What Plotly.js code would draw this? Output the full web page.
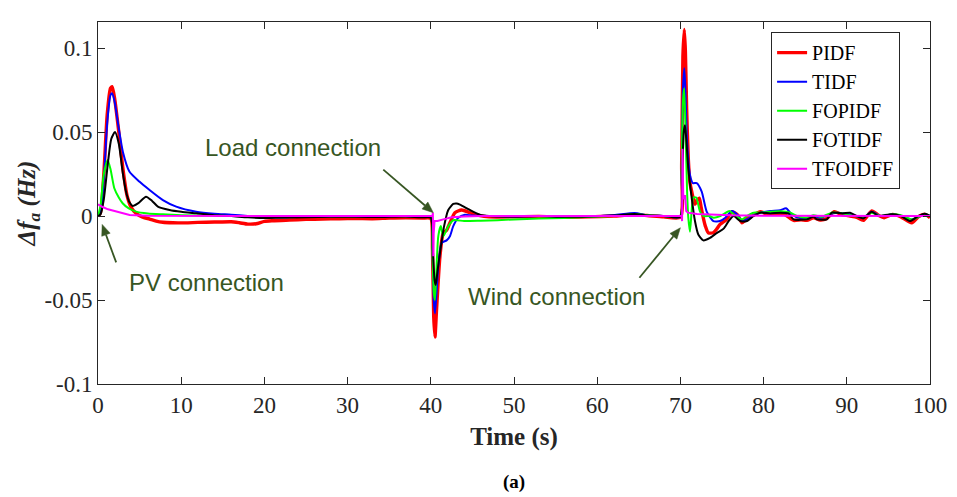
<!DOCTYPE html>
<html>
<head>
<meta charset="utf-8">
<script src="https://cdn.plot.ly/plotly-3.0.1.min.js"></script>
<style>html,body{margin:0;padding:0;background:#fff;}#chart{width:957px;height:497px;}</style>
</head>
<body>
<div id="chart"></div>
<script>
// ---- Data (time in s, deviation in Hz) ----
const seriesNames = ["PIDF", "TIDF", "FOPIDF", "FOTIDF", "TFOIDFF"];

const pidfT = [0,0.3,0.7,1.1,1.5,1.7,2.0,2.5,3.0,3.5,4.0,4.6,5.3,6.2,7.0,7.8,9,10.5,12,14,16,17,18,19,20,21,23,25,27,29,31,33,35,37,39,40.0,40.2,40.35,40.5,40.7,41.1,41.5,41.9,42.3,42.9,43.7,44.7,45.9,47,50,53,56,59,62,64.5,66,68,70.0,70.15,70.3,70.47,70.6,70.75,70.95,71.15,71.36,71.75,72.0,72.27,72.5,72.75,73.0,73.35,73.95,74.4,74.76,75.56,76.2,76.9,77.4,78,78.8,79.6,80.5,81.5,82.5,83.6,84.5,85.2,86,86.8,87.6,88.5,89.3,90.4,91.2,92,93,93.8,94.5,95.5,96.5,97.8,98.6,99.4,100];
const pidfV = [0,0.002,0.025,0.060,0.076,0.077,0.070,0.050,0.028,0.012,0.005,0.0015,-0.0005,-0.0018,-0.003,-0.0037,-0.004,-0.0041,-0.0038,-0.0036,-0.0034,-0.004,-0.0048,-0.0046,-0.0032,-0.0028,-0.0024,-0.002,-0.0018,-0.0016,-0.0015,-0.0016,-0.0012,-0.001,-0.0012,-0.0015,-0.02,-0.06,-0.072,-0.055,-0.024,-0.010,-0.0085,-0.004,0.002,0.0036,0.002,0.0002,-0.0005,-0.0005,-0.0003,-0.0008,-0.0005,0,0.0008,0.0003,-0.0005,-0.0008,0.03,0.095,0.111,0.098,0.064,0.034,0.020,0.0145,0.007,0.0095,0.0106,0.005,-0.001,-0.006,-0.010,-0.010,-0.0075,-0.005,-0.002,0.0026,0.0005,-0.004,-0.0015,0.0005,0.0026,0.001,0.0015,0.001,-0.0026,-0.0022,-0.0026,-0.001,-0.0024,-0.0015,0.0026,0.001,0,-0.0008,-0.0026,0.003,0.0005,-0.001,0.001,-0.0005,-0.004,-0.0005,0.001,-0.001];

const tidfT = [0,0.3,0.7,1.1,1.5,1.7,2.0,2.5,3.0,3.77,4.97,6.2,7.8,9.4,11.8,14,16,18,20,22,24,27,30,33,36,39,40.0,40.2,40.35,40.5,40.7,40.9,41.3,41.9,42.3,42.7,43.3,44.1,45,47,50,53,56,59,62,64.5,66,68,70.0,70.15,70.3,70.47,70.6,70.8,71.15,71.5,71.96,72.56,73.16,73.96,74.76,75.4,76.2,76.9,77.4,78,78.8,79.6,80.8,82,82.7,83.2,84,85.2,86,86.8,88.2,89,90.4,92,93,94,95.5,96.5,97.8,99.4,100];
const tidfV = [0,0.002,0.022,0.055,0.072,0.073,0.068,0.052,0.038,0.0265,0.0205,0.0155,0.0095,0.0056,0.0026,0.0014,0.0008,0,-0.0008,-0.0008,-0.0004,-0.0002,0,-0.0003,0,-0.0005,-0.0008,-0.02,-0.05,-0.058,-0.045,-0.030,-0.016,-0.0145,-0.012,-0.006,-0.001,0.0008,0.0003,0,-0.0003,0,-0.0005,-0.0002,0.0005,0.0018,0.0005,0,-0.0005,0.025,0.075,0.088,0.075,0.044,0.0245,0.0196,0.0196,0.0145,0.0026,-0.003,-0.003,-0.001,0.003,0.0005,-0.003,-0.002,0.0005,0.002,0.003,0.0035,0.0046,0.002,-0.0008,-0.001,0,-0.001,0.0015,0.002,0.001,-0.001,0.0026,0,0.001,0,-0.002,0.001,0];

const fopidfT = [0,0.3,0.7,1.16,1.5,1.96,2.5,2.96,3.7,4.57,6,7.8,10,13,16,20,25,30,35,39,40.0,40.2,40.35,40.5,40.65,40.9,41.2,41.5,42.1,42.7,44,46,48,50,53,56,59,62,64.5,66,68,70.0,70.15,70.3,70.45,70.6,70.8,70.95,71.15,71.35,71.55,71.9,72.36,72.8,73.5,74,74.8,75.9,76.5,77.4,78,78.8,79.6,80.8,82,83.2,84,85.2,86,87,88.2,89.5,90.4,92,93,94,95.5,96.5,97.8,99.4,100];
const fopidfV = [0,0.006,0.025,0.0334,0.028,0.0165,0.011,0.0076,0.0045,0.0026,0.0015,0.001,0.0005,0.0002,0,-0.0003,0,-0.0003,0,-0.0005,-0.0008,-0.02,-0.045,-0.050,-0.035,-0.012,-0.006,-0.012,-0.006,-0.0025,-0.003,-0.0028,-0.0025,-0.002,-0.0015,-0.0012,-0.0005,0,0.0012,0.0005,0,-0.0003,0.025,0.068,0.076,0.055,0.015,-0.001,-0.0093,0.003,0.011,0.011,0.0026,0,0,-0.001,0,0.003,0.0005,-0.002,0,0.002,0.002,0.0026,0.0028,0.002,0,-0.001,0.0005,-0.0005,0.002,0.0015,0.0005,-0.0005,0.002,0,0.001,0.0005,-0.002,0.001,0];

const fotidfT = [0,0.3,0.7,1.2,1.6,2.04,2.5,3.0,3.37,3.8,4.17,4.8,5.77,6.5,7.2,8.6,10,11.8,14,16,18,20,22,25,28,31,34,37,39,40.0,40.25,40.45,40.6,40.8,41.1,41.6,42.1,42.7,43.1,43.5,44.7,45.9,47,50,53,56,59,62,64.5,66,68,70.0,70.2,70.4,70.55,70.7,70.95,71.36,71.75,72.15,72.75,73.56,74.4,75.2,75.8,76.4,77.2,78,78.8,79.6,80.8,82,83,83.6,85.2,86,86.4,87.6,88.2,89.5,90.4,91.2,92,93,93.8,94.5,95.5,96.5,97.6,98.6,99.4,100];
const fotidfV = [0,0.001,0.01,0.032,0.046,0.050,0.043,0.025,0.0145,0.008,0.006,0.0075,0.0115,0.009,0.0056,0.0036,0.0025,0.0016,0.0005,0,-0.0008,-0.0012,-0.001,-0.0008,-0.0005,-0.0005,-0.0006,-0.0003,-0.0008,-0.001,-0.02,-0.038,-0.041,-0.033,-0.022,-0.006,0.0036,0.0072,0.0075,0.0068,0.0036,0.0008,0,-0.0003,0,-0.0005,-0.0003,0.0003,0.0012,0.0003,0,-0.0005,0.02,0.05,0.054,0.046,0.0285,0.0106,-0.003,-0.011,-0.0145,-0.013,-0.010,-0.0075,-0.003,0,-0.003,-0.003,0,0.002,0.0015,0.002,0.0015,-0.002,-0.002,-0.0005,-0.002,-0.002,0.002,0.0015,0.002,0,-0.0014,0.0026,0,0.0005,0.001,0,-0.003,0,0.0014,0];

const tfoidffT = [0,0.5,1.2,2.16,3.8,6,10,20,30,40.2,40.25,40.3,40.35,40.45,40.8,41.5,42.5,44,46,60,70.15,70.2,70.25,70.35,70.55,70.7,70.9,72,74,76,80,90,100];
const tfoidffV = [0.007,0.0055,0.004,0.0026,0.0006,0.0001,0,0,0,0,0.002,-0.024,-0.01,-0.003,-0.003,-0.002,-0.0008,-0.0003,0,0,0,-0.003,0.040,0.01,0.0125,0.003,0.002,0.0012,0.0008,0.0004,0.0002,0,0];

const yTickVals = [-0.1, -0.05, 0, 0.05, 0.1];
const yTickText = ["-0.1", "-0.05", "0", "0.05", "0.1"];
const xTickVals = [0,10,20,30,40,50,60,70,80,90,100];

// ---- Styling ----
const colors = ["#ff0000", "#0000ff", "#00ff00", "#000000", "#ff00ff"];
const widths = [3.4, 2, 2, 2, 2];
const xs = [pidfT, tidfT, fopidfT, fotidfT, tfoidffT];
const ys = [pidfV, tidfV, fopidfV, fotidfV, tfoidffV];

const traces = seriesNames.map((n, i) => ({
  type: "scatter", mode: "lines", name: n, x: xs[i], y: ys[i],
  line: {color: colors[i], width: widths[i], shape: i === 4 ? "linear" : "spline", smoothing: 0.6}
}));

const serif = "Liberation Serif, Times New Roman, serif";
const sans = "Liberation Sans, Arial, sans-serif";
const annColor = "#375623";

// Arrow (line + filled head) anchored at a data point, tail offset in screen pixels
function arrowShapes(hx, hy, dx, dy) {
  const tx = dx, ty = -dy;               // pixel-sizemode paths use y-up
  const len = Math.hypot(tx, ty);
  const ux = -tx / len, uy = -ty / len;  // unit vector tail -> head
  const L = 11, W = 4.5;
  const bx = -L * ux, by = -L * uy;
  const nx = -uy, ny = ux;
  const common = {type: "path", xref: "x", yref: "y", xsizemode: "pixel", ysizemode: "pixel",
                  xanchor: hx, yanchor: hy, layer: "above"};
  return [
    Object.assign({}, common, {path: `M${tx},${ty} L${bx},${by}`, line: {color: annColor, width: 1.8}}),
    Object.assign({}, common, {path: `M0,0 L${bx + W*nx},${by + W*ny} L${bx - W*nx},${by - W*ny} Z`,
                               fillcolor: annColor, line: {color: annColor, width: 0.5}})
  ];
}

const shapes = [].concat(
  arrowShapes(40.3, 0.002, -50, -43),
  arrowShapes(0.5, -0.005, 14, 38),
  arrowShapes(70.0, -0.007, -41, 50)
);

const layout = {
  width: 957, height: 497,
  margin: {l: 98, r: 27, t: 22, b: 113},
  paper_bgcolor: "#ffffff", plot_bgcolor: "#ffffff",
  showlegend: true,
  legend: {x: 0.809, y: 0.972, xanchor: "left", yanchor: "top", bgcolor: "#ffffff",
           bordercolor: "#262626", borderwidth: 1, font: {family: serif, size: 20, color: "#000"},
           tracegroupgap: 0, entrywidth: 110, entrywidthmode: "pixels"},
  xaxis: {range: [0, 100], tickvals: xTickVals, ticks: "inside", ticklen: 7, tickcolor: "#262626",
          showline: true, linecolor: "#262626", linewidth: 1, mirror: "ticks", showgrid: false, zeroline: false,
          tickfont: {family: serif, size: 23, color: "#262626"},
          title: {text: "<b>Time (s)</b>", font: {family: serif, size: 25, color: "#262626"}, standoff: 10}},
  yaxis: {range: [-0.1, 0.1155], tickvals: yTickVals, ticktext: yTickText, ticks: "inside", ticklen: 7, tickcolor: "#262626",
          showline: true, linecolor: "#262626", linewidth: 1, mirror: "ticks", showgrid: false, zeroline: false,
          tickfont: {family: serif, size: 23, color: "#262626"},
          title: {text: "<b><i>Δf<sub>a</sub> (Hz)</i></b>", font: {family: serif, size: 25, color: "#262626"}, standoff: 1}},
  shapes: shapes,
  annotations: [
    {xref: "paper", yref: "paper", x: (293-98)/832, y: (384-147)/362, xanchor: "center", yanchor: "middle",
     text: "Load connection", showarrow: false, font: {family: sans, size: 24, color: annColor}},
    {xref: "paper", yref: "paper", x: (206-98)/832, y: (384-282)/362, xanchor: "center", yanchor: "middle",
     text: "PV connection", showarrow: false, font: {family: sans, size: 24, color: annColor}},
    {xref: "paper", yref: "paper", x: (556-98)/832, y: (384-296)/362, xanchor: "center", yanchor: "middle",
     text: "Wind connection", showarrow: false, font: {family: sans, size: 24, color: annColor}},
    {xref: "paper", yref: "paper", x: 0.5, y: (384-482)/362, xanchor: "center", yanchor: "middle",
     text: "<b>(a)</b>", showarrow: false, font: {family: serif, size: 19, color: "#000"}}
  ]
};

Plotly.newPlot("chart", traces, layout, {displayModeBar: false, staticPlot: true});
</script>
</body>
</html>
